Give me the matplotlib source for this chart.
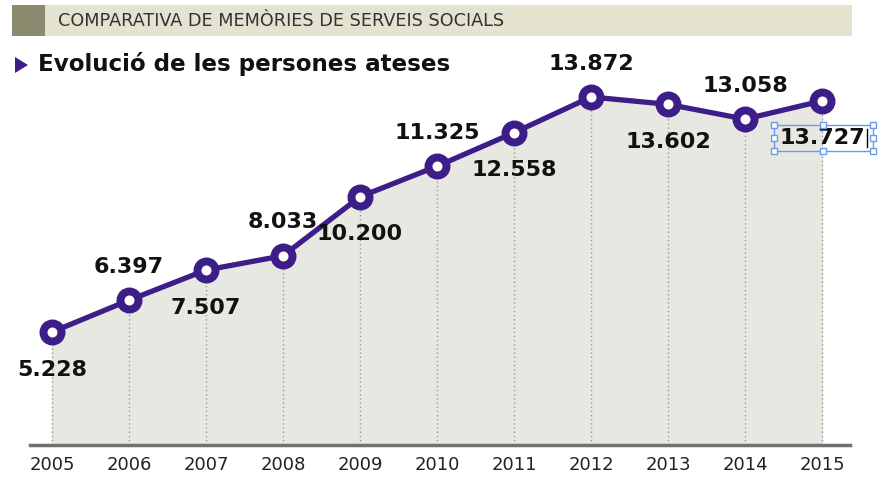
import matplotlib
matplotlib.use("Agg")
from matplotlib import pyplot as plt
from matplotlib.patches import Rectangle, Polygon

# data
years = [2005, 2006, 2007, 2008, 2009, 2010, 2011, 2012, 2013, 2014, 2015]
persons = [5228, 6397, 7507, 8033, 10200, 11325, 12558, 13872, 13602, 13058, 13727]
labels = ["5.228", "6.397", "7.507", "8.033", "10.200", "11.325",
          "12.558", "13.872", "13.602", "13.058", "13.727"]
label_side = ["below", "above", "below", "above", "below", "above",
              "below", "above", "below", "above", "below"]

purple = "#3d1d87"
narrow = ["DejaVu Sans"]

W, H = 880, 495
fig = plt.figure(figsize=(8.8, 4.95), dpi=100)
fig.patch.set_facecolor("white")

def fx(px):
    return px / W

def fy(py):
    return 1 - py / H

# header band
fig.patches.append(Rectangle((fx(12), fy(36)), fx(840), 31 / H, transform=fig.transFigure,
                             facecolor="#e4e3d0", edgecolor="none"))
fig.patches.append(Rectangle((fx(12), fy(36)), fx(33), 31 / H, transform=fig.transFigure,
                             facecolor="#8c8b6f", edgecolor="none"))
fig.text(fx(58), fy(21), "COMPARATIVA DE MEMÒRIES DE SERVEIS SOCIALS", family=narrow,
         fontsize=12.7, color="#333333", va="center", ha="left")

# title
fig.patches.append(Polygon([(fx(15), fy(57)), (fx(15), fy(73)), (fx(28), fy(65))],
                           closed=True, transform=fig.transFigure, facecolor=purple,
                           edgecolor="none"))
fig.text(fx(38), fy(64), "Evolució de les persones ateses", family=narrow,
         fontsize=16.6, fontweight="bold", color="#111111", va="center", ha="left")

ax = fig.add_axes([fx(30), fy(445), fx(820), 385 / H])
ax.set_xlim(2004.714, 2015.364)
ax.set_ylim(1072, 15232)
ax.patch.set_alpha(0)

ax.fill_between(years, persons, 1072, color="#e8e8e3", zorder=1)
ax.vlines(years, 1072, persons, colors="#999999", linestyles=(0, (1, 2)),
          linewidth=1, zorder=2)
ax.plot(years, persons, color=purple, linewidth=3.8, marker="o", markersize=13,
        markerfacecolor="white", markeredgecolor=purple, markeredgewidth=5.7,
        zorder=3, clip_on=False)

texts = []
for x, v, lab, side in zip(years, persons, labels, label_side):
    dy = 24 if side == "above" else -27
    t = ax.annotate(lab, (x, v), xytext=(0, dy), textcoords="offset points",
                    ha="center", va="center", fontsize=16, fontweight="bold",
                    family=narrow, color="#111111", zorder=4)
    texts.append(t)

for s in ["left", "right", "top"]:
    ax.spines[s].set_visible(False)
ax.spines["bottom"].set_color("#707070")
ax.spines["bottom"].set_linewidth(2.5)
ax.set_yticks([])
ax.set_xticks(years)
ax.set_xticklabels([str(y) for y in years], family=narrow, fontsize=13, color="#222222")
ax.tick_params(axis="x", length=0, pad=8)

# text-edit selection box around the last label
fig.canvas.draw()
bb = texts[-1].get_window_extent()
x0, y0, x1, y1 = bb.x0 - 5, bb.y0 - 3, bb.x1 + 8, bb.y1 + 3
box_col = "#6a9ae8"
fig.patches.append(Rectangle((x0, y0), x1 - x0, y1 - y0, transform=None,
                             facecolor="none", edgecolor=box_col, linewidth=1))
xm, ym = (x0 + x1) / 2, (y0 + y1) / 2
for hx, hy in [(x0, y0), (xm, y0), (x1, y0), (x0, ym), (x1, ym), (x0, y1), (xm, y1), (x1, y1)]:
    fig.patches.append(Rectangle((hx - 3, hy - 3), 6, 6, transform=None,
                                 facecolor="white", edgecolor=box_col, linewidth=1))
fig.lines.append(plt.Line2D([bb.x1 + 2, bb.x1 + 2], [bb.y0 + 1, bb.y1 - 1], transform=None,
                            color="black", linewidth=1))

fig.savefig("out.png", dpi=100)
